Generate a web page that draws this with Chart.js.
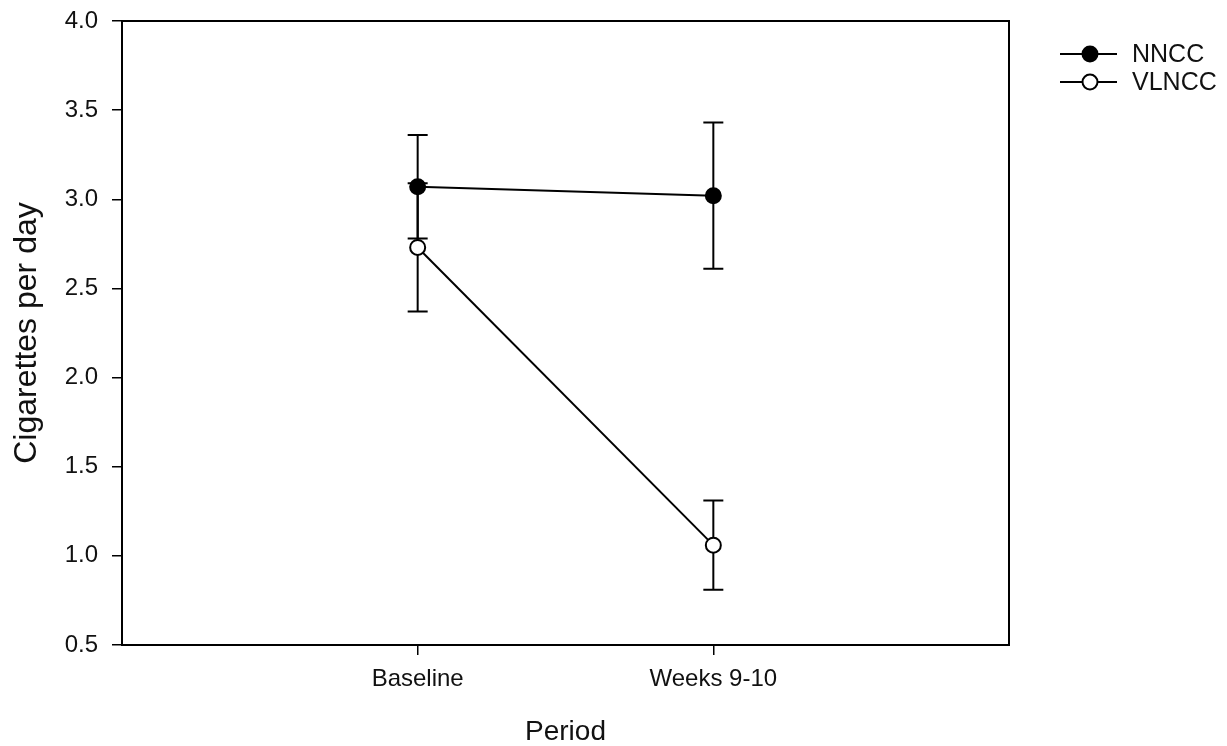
<!DOCTYPE html>
<html>
<head>
<meta charset="utf-8">
<script src="https://cdn.jsdelivr.net/npm/chart.js@4"></script>
<style>
  body { margin: 0; background: #fff; }
  #wrap { width: 1227px; height: 746px; }
</style>
</head>
<body>
<div id="wrap"><canvas id="cpdChart" width="1227" height="746"></canvas></div>
<script>
// data
const categories = ['Baseline', 'Weeks 9-10'];
const xPositions = [1, 2];
const nnccMean = [3.07, 3.02];
const nnccErr = [0.29, 0.41];
const vlnccMean = [2.73, 1.06];
const vlnccErr = [0.36, 0.25];
const yTicks = [0.5, 1.0, 1.5, 2.0, 2.5, 3.0, 3.5, 4.0];

const FONT = 'Liberation Sans, Arial, sans-serif';

const toPoints = (ys) => ys.map((y, i) => ({ x: xPositions[i], y: y }));

// error bars, drawn under the markers
const errorBars = {
    id: 'errorBars',
    beforeDatasetsDraw(chart) {
        const { ctx, scales: { x, y } } = chart;
        const sets = [[nnccMean, nnccErr], [vlnccMean, vlnccErr]];
        ctx.save();
        ctx.strokeStyle = '#000';
        ctx.lineWidth = 2;
        sets.forEach(([means, errs]) => {
            means.forEach((m, i) => {
                const px = x.getPixelForValue(xPositions[i]);
                const top = y.getPixelForValue(m + errs[i]);
                const bot = y.getPixelForValue(m - errs[i]);
                ctx.beginPath();
                ctx.moveTo(px, top); ctx.lineTo(px, bot);
                ctx.moveTo(px - 10, top); ctx.lineTo(px + 10, top);
                ctx.moveTo(px - 10, bot); ctx.lineTo(px + 10, bot);
                ctx.stroke();
            });
        });
        ctx.restore();
    }
};

// box round the plot + legend on the right
const frameAndLegend = {
    id: 'frameAndLegend',
    afterDraw(chart) {
        const { ctx, chartArea: a } = chart;
        ctx.save();
        ctx.strokeStyle = '#000';
        ctx.lineWidth = 2;
        ctx.strokeRect(a.left, a.top, a.right - a.left, a.bottom - a.top);

        const items = [['NNCC', '#000', 54], ['VLNCC', '#fff', 82]];
        items.forEach(([label, fill, ly]) => {
            ctx.beginPath();
            ctx.lineWidth = 2;
            ctx.moveTo(1060, ly); ctx.lineTo(1117, ly);
            ctx.stroke();
            ctx.beginPath();
            ctx.arc(1090, ly, 7.5, 0, Math.PI * 2);
            ctx.fillStyle = fill;
            ctx.fill();
            ctx.stroke();
            ctx.fillStyle = '#111';
            ctx.font = '25px ' + FONT;
            ctx.textBaseline = 'middle';
            ctx.fillText(label, 1132, ly + 1);
        });
        ctx.restore();
    }
};

const ctx = document.getElementById('cpdChart').getContext('2d');
const cpdChart = new Chart(ctx, {
    type: 'line',
    data: {
        datasets: [
            {
                label: 'NNCC',
                data: toPoints(nnccMean),
                borderColor: '#000',
                borderWidth: 2,
                pointRadius: 7.5,
                pointBorderWidth: 2,
                pointBackgroundColor: '#000',
                pointBorderColor: '#000'
            },
            {
                label: 'VLNCC',
                data: toPoints(vlnccMean),
                borderColor: '#000',
                borderWidth: 2,
                pointRadius: 7.5,
                pointBorderWidth: 2,
                pointBackgroundColor: '#fff',
                pointBorderColor: '#000'
            }
        ]
    },
    options: {
        responsive: false,
        animation: false,
        layout: { padding: { top: 21, right: 218, left: 0, bottom: 0 } },
        plugins: {
            legend: { display: false },
            tooltip: { enabled: false }
        },
        scales: {
            x: {
                type: 'linear',
                min: 0,
                max: 3,
                afterBuildTicks: (scale) => { scale.ticks = xPositions.map(v => ({ value: v })); },
                afterFit: (scale) => {
                    scale.height = 101;
                    scale.paddingLeft = 0;
                    scale.paddingRight = 0;
                },
                ticks: {
                    color: '#111',
                    padding: 10,
                    maxRotation: 0,
                    font: { family: FONT, size: 24 },
                    callback: (v, i) => categories[i]
                },
                grid: { drawOnChartArea: false, drawTicks: true, tickLength: 10, color: '#000', lineWidth: 1.5 },
                border: { display: false },
                title: {
                    display: true,
                    text: 'Period',
                    color: '#111',
                    font: { family: FONT, size: 28, lineHeight: 1 },
                    padding: { top: 0, bottom: 0 }
                }
            },
            y: {
                min: 0.5,
                max: 4.0,
                afterBuildTicks: (scale) => { scale.ticks = yTicks.map(v => ({ value: v })); },
                afterFit: (scale) => {
                    scale.width = 122;
                    scale.paddingTop = 0;
                    scale.paddingBottom = 0;
                },
                ticks: {
                    color: '#111',
                    padding: 14,
                    font: { family: FONT, size: 24 },
                    callback: (v) => v.toFixed(1)
                },
                grid: { drawOnChartArea: false, drawTicks: true, tickLength: 10, color: '#000', lineWidth: 1.5 },
                border: { display: false },
                title: {
                    display: true,
                    text: 'Cigarettes per day',
                    color: '#111',
                    font: { family: FONT, size: 32, lineHeight: 1.2 },
                    padding: { top: 8, bottom: 0 }
                }
            }
        }
    },
    plugins: [errorBars, frameAndLegend]
});
</script>
</body>
</html>
